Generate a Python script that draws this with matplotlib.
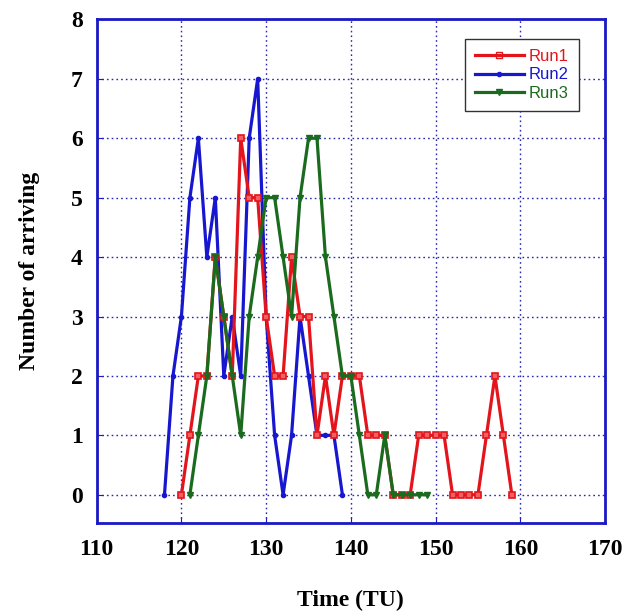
import matplotlib
matplotlib.use("Agg")
import matplotlib.pyplot as plt
from matplotlib.lines import Line2D

# Data
t_run1 = list(range(120, 160))
run1 = [0, 1, 2, 2, 4, 3, 2, 6, 5, 5, 3, 2, 2, 4, 3, 3, 1, 2, 1, 2,
        2, 2, 1, 1, 1, 0, 0, 0, 1, 1, 1, 1, 0, 0, 0, 0, 1, 2, 1, 0]
t_run2 = list(range(118, 140))
run2 = [0, 2, 3, 5, 6, 4, 5, 2, 3, 2, 6, 7, 3, 1, 0, 1, 3, 2, 1, 1, 1, 0]
t_run3 = list(range(121, 150))
run3 = [0, 1, 2, 4, 3, 2, 1, 3, 4, 5, 5, 4, 3, 5, 6, 6, 4, 3, 2, 2,
        1, 0, 0, 1, 0, 0, 0, 0, 0]
x_ticks = [110, 120, 130, 140, 150, 160, 170]
y_ticks = [0, 1, 2, 3, 4, 5, 6, 7, 8]

RED = "#e3141c"
BLUE = "#1717d0"
GREEN = "#1b6b1f"
AXC = "#1a1ac4"

fig = plt.figure(figsize=(6.23, 6.16), dpi=100)
ax = fig.add_axes([0.1552, 0.1505, 0.816, 0.818])

LW = 2.3
ax.plot(t_run2, run2, color=BLUE, lw=LW, marker="o", ms=3, mfc=BLUE, mec=BLUE, label="Run2", zorder=3)
ax.plot(t_run1, run1, color=RED, lw=LW, marker="s", ms=4.5, mfc="#f06060", mec=RED, mew=1.2, label="Run1", zorder=4)
ax.plot(t_run3, run3, color=GREEN, lw=LW, marker="v", ms=5, mfc=GREEN, mec=GREEN, label="Run3", zorder=5)

ax.set_xlim(110, 170)
ax.set_ylim(-0.48, 8)
ax.set_xticks(x_ticks)
ax.set_yticks(y_ticks)

tick_font = dict(family="Liberation Serif", weight="bold", size=17)
ax.set_xticklabels([str(v) for v in x_ticks], **tick_font)
ax.set_yticklabels([str(v) for v in y_ticks], **tick_font)
ax.tick_params(axis="x", direction="in", length=4, color=AXC, pad=11)
ax.tick_params(axis="y", direction="in", length=4, color=AXC, pad=10)

ax.grid(True, color="#2a2ab0", linestyle=(0, (1.2, 2.2)), linewidth=1.0)
ax.set_axisbelow(True)
for s in ax.spines.values():
    s.set_color(AXC)
    s.set_linewidth(2.0)

ax.set_xlabel("Time (TU)", family="Liberation Serif", weight="bold", size=17, labelpad=22)
ax.set_ylabel("Number of arriving", family="Liberation Serif", weight="bold", size=17, labelpad=22)

handles = [
    Line2D([], [], color=RED, lw=LW, marker="s", ms=4.5, mfc="none", mec=RED),
    Line2D([], [], color=BLUE, lw=LW, marker="o", ms=3, mfc=BLUE, mec=BLUE),
    Line2D([], [], color=GREEN, lw=LW, marker="v", ms=5, mfc=GREEN, mec=GREEN),
]
leg = ax.legend(handles, ["Run1", "Run2", "Run3"], loc="upper left",
                bbox_to_anchor=(0.725, 0.961), borderaxespad=0.0,
                frameon=True, fancybox=False,
                edgecolor="#333333", framealpha=1, handlelength=2.9,
                handletextpad=0.3, labelspacing=0.2, borderpad=0.6,
                prop=dict(family="Liberation Sans", size=12))
leg.get_frame().set_linewidth(1.0)
for txt, c in zip(leg.get_texts(), [RED, BLUE, GREEN]):
    txt.set_color(c)

fig.savefig("out.png", dpi=100)
